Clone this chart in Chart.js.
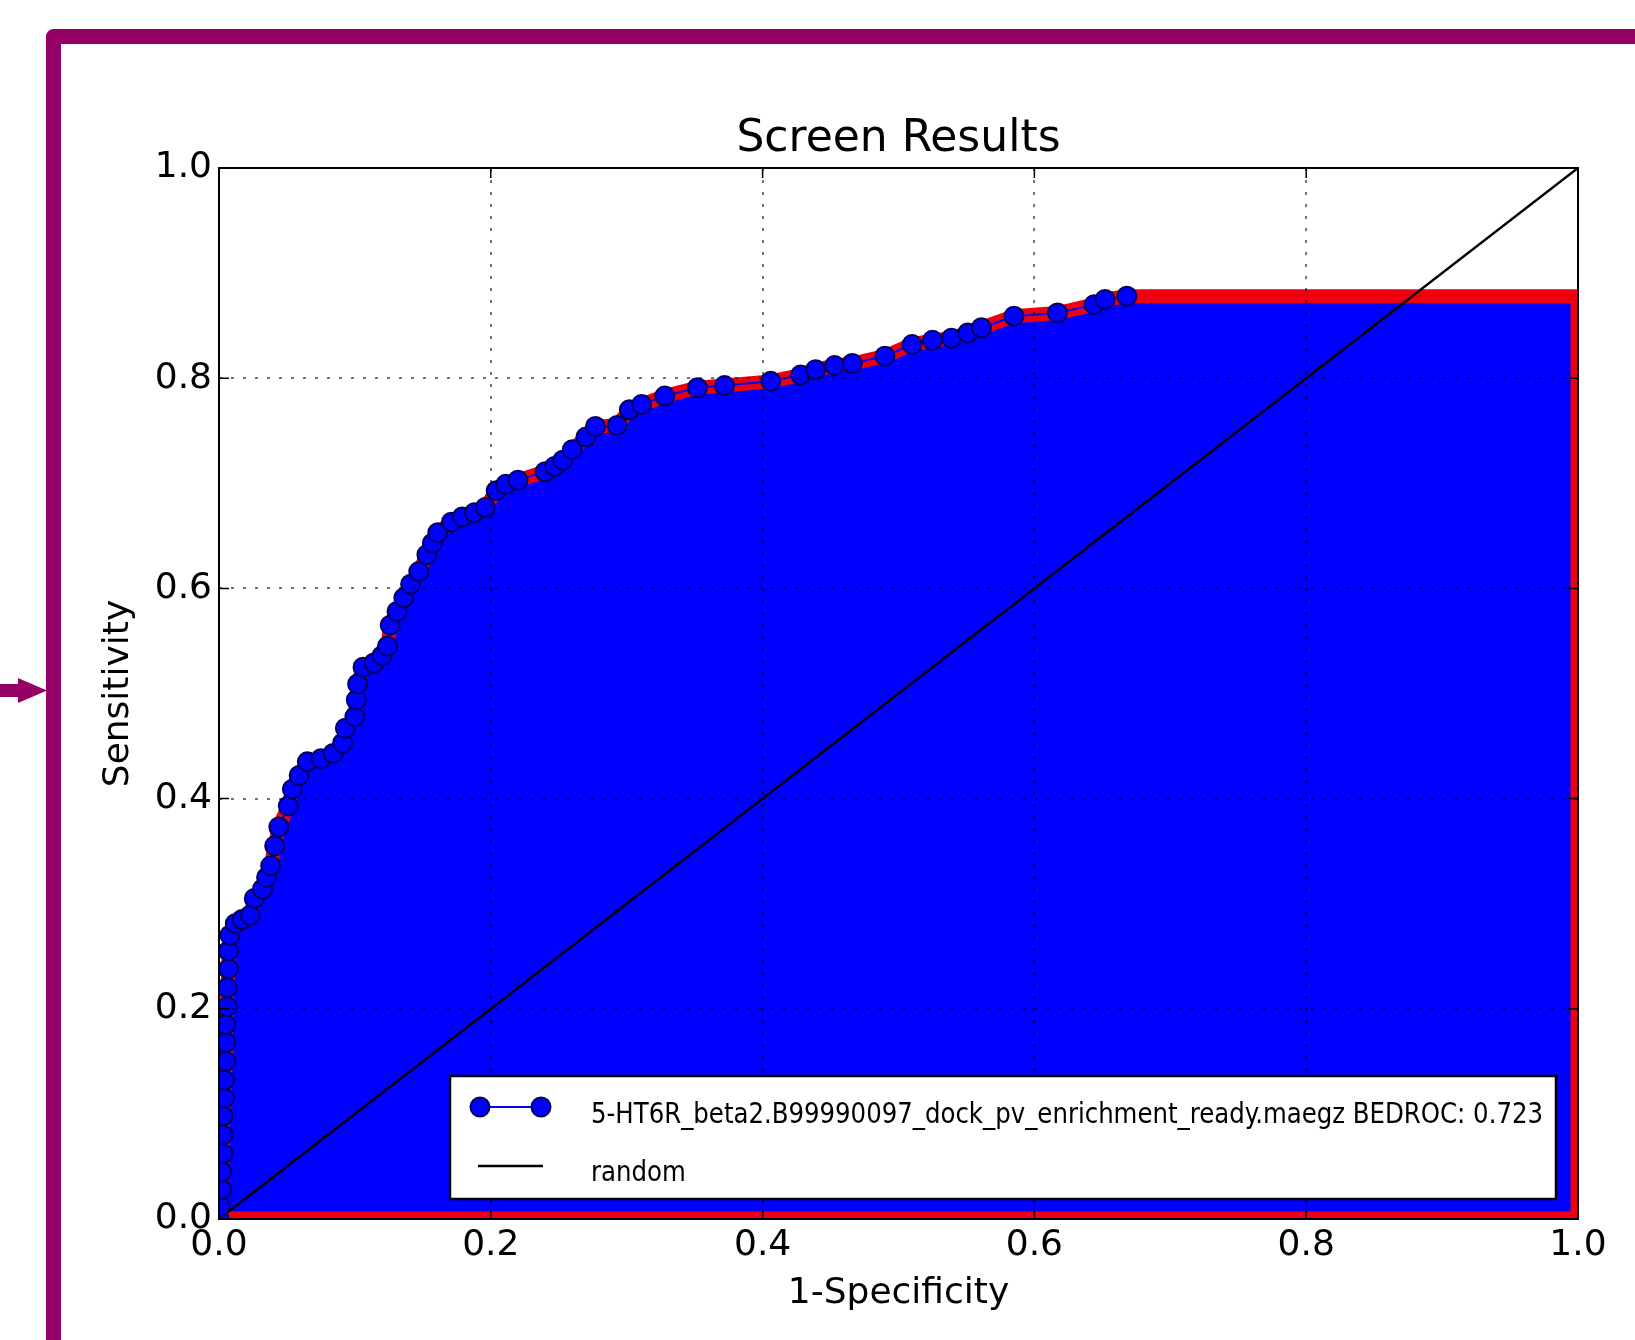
<!DOCTYPE html>
<html>
<head>
<meta charset="utf-8">
<script src="https://cdn.jsdelivr.net/npm/chart.js@4.4.1/dist/chart.umd.min.js"></script>
<style>
html, body { margin: 0; padding: 0; background: #fff; }
canvas { display: block; }
</style>
</head>
<body>
<canvas id="rocChart" width="1635" height="1340"></canvas>
<script>
// ROC curve
var fpr = [0, 0.001, 0.002, 0.002, 0.003, 0.003, 0.003, 0.004, 0.004, 0.005,
  0.005, 0.005, 0.006, 0.006, 0.007, 0.007, 0.008, 0.012, 0.017, 0.023,
  0.026, 0.032, 0.035, 0.038, 0.041, 0.044, 0.051, 0.054, 0.059, 0.065,
  0.075, 0.084, 0.091, 0.093, 0.100, 0.101, 0.102, 0.106, 0.114, 0.120,
  0.124, 0.126, 0.131, 0.136, 0.141, 0.147, 0.153, 0.157, 0.161, 0.171,
  0.179, 0.188, 0.196, 0.204, 0.211, 0.220, 0.240, 0.247, 0.253, 0.260,
  0.270, 0.277, 0.293, 0.302, 0.311, 0.328, 0.352, 0.372, 0.406, 0.428,
  0.439, 0.453, 0.466, 0.490, 0.510, 0.525, 0.539, 0.551, 0.561, 0.585,
  0.617, 0.644, 0.652, 0.668];
var tpr = [0, 0.012, 0.028, 0.045, 0.062, 0.080, 0.098, 0.115, 0.132, 0.150,
  0.168, 0.185, 0.202, 0.220, 0.238, 0.255, 0.270, 0.281, 0.285, 0.289,
  0.305, 0.314, 0.325, 0.336, 0.355, 0.373, 0.393, 0.409, 0.422, 0.435,
  0.438, 0.443, 0.453, 0.467, 0.478, 0.494, 0.509, 0.525, 0.529, 0.536,
  0.545, 0.565, 0.578, 0.591, 0.604, 0.616, 0.632, 0.643, 0.653, 0.663,
  0.668, 0.672, 0.677, 0.693, 0.699, 0.703, 0.711, 0.716, 0.722, 0.732,
  0.744, 0.754, 0.755, 0.770, 0.775, 0.783, 0.791, 0.793, 0.797, 0.803,
  0.808, 0.812, 0.814, 0.821, 0.832, 0.836, 0.838, 0.843, 0.848, 0.859,
  0.862, 0.870, 0.875, 0.878];
var randomX = [0, 1];
var randomY = [0, 1];
var tickValues = [0, 0.2, 0.4, 0.6, 0.8, 1.0];
var curveLabel = '5-HT6R_beta2.B99990097_dock_pv_enrichment_ready.maegz BEDROC: 0.723';
var randomLabel = 'random';

var purple = '#950066';
var red = '#ee0010';
var fontFamily = '"DejaVu Sans", sans-serif';

var curvePts = fpr.map(function (x, i) { return {x: x, y: tpr[i]}; });
var lastY = tpr[tpr.length - 1];
// area under the curve, carried flat to x=1
var areaPts = curvePts.concat([{x: 1, y: lastY}]);
// rest of the outline: down the right side and back along the bottom
var edgePts = [{x: 1, y: lastY}, {x: 1, y: 0}, {x: 0, y: 0}];
var randomPts = randomX.map(function (x, i) { return {x: x, y: randomY[i]}; });

var decor = {
  id: 'decor',
  beforeDraw: function (chart) {
    var ctx = chart.ctx;
    ctx.save();
    ctx.strokeStyle = purple;
    ctx.lineWidth = 15;
    ctx.lineJoin = 'round';
    ctx.beginPath();
    ctx.moveTo(53.5, 1400);
    ctx.lineTo(53.5, 36.5);
    ctx.lineTo(1700, 36.5);
    ctx.stroke();
    // little arrow coming in from the left
    ctx.fillStyle = purple;
    ctx.fillRect(0, 684, 22, 13);
    ctx.beginPath();
    ctx.moveTo(18, 678);
    ctx.lineTo(47, 690.5);
    ctx.lineTo(18, 703);
    ctx.closePath();
    ctx.fill();
    ctx.restore();
  },
  afterDraw: function (chart) {
    var ctx = chart.ctx;
    var a = chart.chartArea;
    var xs = chart.scales.x, ys = chart.scales.y;
    ctx.save();
    // inward ticks on all four sides
    ctx.strokeStyle = '#000';
    ctx.lineWidth = 1.5;
    ctx.beginPath();
    tickValues.forEach(function (v) {
      var px = xs.getPixelForValue(v), py = ys.getPixelForValue(v);
      ctx.moveTo(px, a.bottom); ctx.lineTo(px, a.bottom - 10);
      ctx.moveTo(px, a.top); ctx.lineTo(px, a.top + 10);
      ctx.moveTo(a.left, py); ctx.lineTo(a.left + 10, py);
      ctx.moveTo(a.right, py); ctx.lineTo(a.right - 10, py);
    });
    ctx.stroke();
    // axes frame
    ctx.lineWidth = 2;
    ctx.strokeRect(a.left, a.top, a.right - a.left, a.bottom - a.top);

    // legend box
    var bx = 450, by = 1076, bw = 1106, bh = 123;
    ctx.fillStyle = '#fff';
    ctx.fillRect(bx, by, bw, bh);
    ctx.strokeStyle = '#000';
    ctx.lineWidth = 2.5;
    ctx.strokeRect(bx, by, bw, bh);

    var dsCurve = chart.data.datasets[0];
    var dsRandom = chart.data.datasets[1];
    // curve sample: line with two markers
    ctx.strokeStyle = dsCurve.borderColor;
    ctx.lineWidth = dsCurve.borderWidth;
    ctx.beginPath(); ctx.moveTo(480, 1107); ctx.lineTo(541, 1107); ctx.stroke();
    [480, 541].forEach(function (mx) {
      ctx.beginPath();
      ctx.arc(mx, 1107, dsCurve.pointRadius, 0, Math.PI * 2);
      ctx.fillStyle = dsCurve.pointBackgroundColor;
      ctx.fill();
      ctx.lineWidth = dsCurve.pointBorderWidth;
      ctx.strokeStyle = dsCurve.pointBorderColor;
      ctx.stroke();
    });
    // random sample
    ctx.strokeStyle = dsRandom.borderColor;
    ctx.lineWidth = dsRandom.borderWidth;
    ctx.beginPath(); ctx.moveTo(478, 1166); ctx.lineTo(543, 1166); ctx.stroke();

    // legend texts, narrow like the original
    ctx.fillStyle = '#000';
    ctx.font = '29px "DejaVu Sans Condensed", "DejaVu Sans", sans-serif';
    ctx.textBaseline = 'middle';
    ctx.textAlign = 'left';
    var sx = Math.min(1, 952 / ctx.measureText(dsCurve.label).width);
    ctx.save(); ctx.translate(591, 1115); ctx.scale(sx, 1);
    ctx.fillText(dsCurve.label, 0, 0); ctx.restore();
    ctx.save(); ctx.translate(591, 1173); ctx.scale(sx, 1);
    ctx.fillText(dsRandom.label, 0, 0); ctx.restore();
    ctx.restore();
  }
};

function axisTicks(scale) {
  scale.ticks = tickValues.map(function (v) { return {value: v}; });
}

var ctx = document.getElementById('rocChart').getContext('2d');
var rocChart = new Chart(ctx, {
  type: 'scatter',
  data: {
    datasets: [{
      label: curveLabel,
      data: curvePts,
      showLine: true,
      borderColor: '#0000ff',
      borderWidth: 2,
      pointRadius: 9.5,
      pointHoverRadius: 9.5,
      pointBackgroundColor: '#0000ff',
      pointBorderColor: '#00005a',
      pointBorderWidth: 2,
      clip: 0
    }, {
      label: randomLabel,
      data: randomPts,
      showLine: true,
      borderColor: '#000',
      borderWidth: 2.5,
      pointRadius: 0,
      clip: 0
    }, {
      label: 'edge',
      data: edgePts,
      showLine: true,
      borderColor: red,
      borderWidth: 15,
      borderJoinStyle: 'miter',
      pointRadius: 0,
      clip: 0
    }, {
      label: 'area',
      data: areaPts,
      showLine: true,
      fill: 'origin',
      backgroundColor: '#0000ff',
      borderColor: red,
      borderWidth: 14,
      pointRadius: 0,
      clip: 0
    }]
  },
  options: {
    responsive: false,
    animation: false,
    devicePixelRatio: 1,
    layout: {padding: {left: 60, right: 57, top: 0, bottom: 21}},
    plugins: {
      legend: {display: false},
      tooltip: {enabled: false},
      title: {
        display: true,
        text: 'Screen Results',
        fullSize: false,
        color: '#000',
        font: {family: fontFamily, size: 44, weight: 'normal', lineHeight: 1.2},
        padding: {top: 113, bottom: 2.2}
      }
    },
    scales: {
      x: {
        type: 'linear',
        min: 0, max: 1,
        afterBuildTicks: axisTicks,
        afterFit: function (s) { s.height = 100; },
        grid: {color: 'rgba(0,0,0,0.55)', lineWidth: 2, drawTicks: false, z: 1},
        border: {display: false, dash: [3, 9]},
        ticks: {
          color: '#000', padding: 5, maxRotation: 0,
          font: {family: fontFamily, size: 36},
          callback: function (v) { return v.toFixed(1); }
        },
        title: {
          display: true, text: '1-Specificity', color: '#000',
          font: {family: fontFamily, size: 36, lineHeight: 1.2},
          padding: {top: 0, bottom: 4}
        }
      },
      y: {
        type: 'linear',
        min: 0, max: 1,
        afterBuildTicks: axisTicks,
        afterFit: function (s) { s.width = 159; },
        grid: {color: 'rgba(0,0,0,0.55)', lineWidth: 2, drawTicks: false, z: 1},
        border: {display: false, dash: [3, 9]},
        ticks: {
          color: '#000', padding: 7,
          font: {family: fontFamily, size: 36},
          callback: function (v) { return v.toFixed(1); }
        },
        title: {
          display: true, text: 'Sensitivity', color: '#000',
          font: {family: fontFamily, size: 36, lineHeight: 1.2},
          padding: {top: 37, bottom: 0}
        }
      }
    }
  },
  plugins: [decor]
});
</script>
</body>
</html>
